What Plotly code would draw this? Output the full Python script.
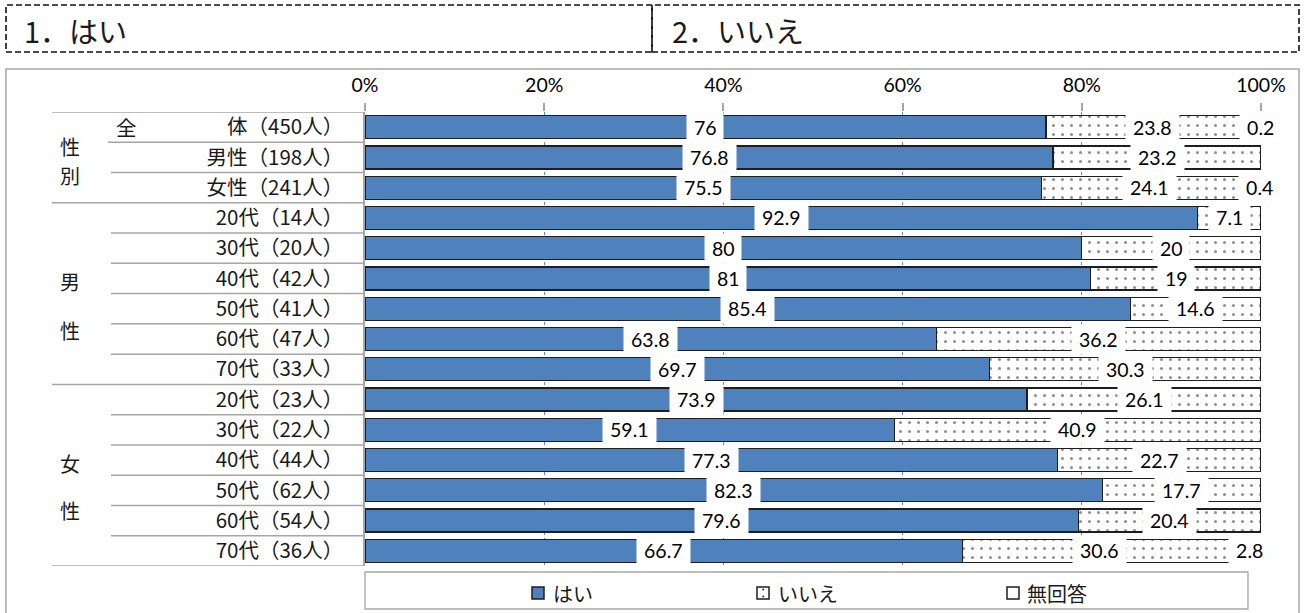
import plotly.graph_objects as go

# Survey rows (top to bottom)
categories = [
    "体（450人）",
    "男性（198人）", "女性（241人）",
    "20代（14人）", "30代（20人）", "40代（42人）", "50代（41人）", "60代（47人）", "70代（33人）",
    "20代（23人）", "30代（22人）", "40代（44人）", "50代（62人）", "60代（54人）", "70代（36人）",
]

# Share of answers (%)
yes_vals = [76, 76.8, 75.5, 92.9, 80, 81, 85.4, 63.8, 69.7, 73.9, 59.1, 77.3, 82.3, 79.6, 66.7]
no_vals = [23.8, 23.2, 24.1, 7.1, 20, 19, 14.6, 36.2, 30.3, 26.1, 40.9, 22.7, 17.7, 20.4, 30.6]
na_vals = [0.2, 0, 0.4, 0, 0, 0, 0, 0, 0, 0, 0, 0, 0, 0, 2.8]

series_names = ["はい", "いいえ", "無回答"]
tick_vals = [0, 20, 40, 60, 80, 100]
tick_labels = ["0%", "20%", "40%", "60%", "80%", "100%"]

# Plot-area geometry in pixels, used to place decorations in paper coordinates
W, H = 1304, 613
L, R, T, B = 365, 1261, 112, 566


def px(x):
    return (x - L) / (R - L)


def py(y):
    return (B - y) / (B - T)


JP = "Noto Sans CJK JP"
NUM = "Lato"
BLUE = "#4F81BD"
EDGE = "#1E1E1E"
GRAY = "#A6A6A6"

fig = go.Figure()

fig.add_trace(go.Bar(
    y=categories, x=yes_vals, name=series_names[0], orientation="h",
    marker=dict(color=BLUE, line=dict(color=EDGE, width=1.3)),
    hoverinfo="skip",
))
fig.add_trace(go.Bar(
    y=categories, x=no_vals, name=series_names[1], orientation="h",
    marker=dict(color="white", line=dict(color=EDGE, width=1.3),
                pattern=dict(shape=".", fgcolor="#202020", bgcolor="white",
                             size=9, solidity=0.09, fillmode="overlay")),
    hoverinfo="skip",
))
fig.add_trace(go.Bar(
    y=categories, x=na_vals, name=series_names[2], orientation="h",
    marker=dict(color="white", line=dict(color=EDGE, width=1.3)),
    hoverinfo="skip",
))

annotations = []

# Value labels in white boxes, centred on each segment
for i, cat in enumerate(categories):
    start = 0.0
    for vals in (yes_vals, no_vals, na_vals):
        v = vals[i]
        if v > 0:
            txt = f"{v:g}"
            n_dig = sum(c.isdigit() for c in txt)
            n_dot = txt.count(".")
            w = n_dig * 11.2 + n_dot * 5 + 8
            annotations.append(dict(
                x=start + v / 2, y=cat, xref="x", yref="y", text=txt,
                showarrow=False, bgcolor="white", borderpad=3,
                width=w, height=23, align="center",
                font=dict(family=NUM, size=19.5, color="#000000"),
            ))
        start += v

# First character of the overall row, spaced apart as in the table
annotations.append(dict(
    x=px(114), y=categories[0], xref="paper", yref="y", text="全",
    showarrow=False, xanchor="left", yanchor="middle",
    font=dict(family=JP, size=20.5, color="#1A1A1A"),
))

# Group labels on the left
group_labels = [("性", 146.5), ("別", 175), ("男", 281), ("性", 330), ("女", 463), ("性", 510)]
for txt, yy in group_labels:
    annotations.append(dict(
        x=px(70), y=py(yy), xref="paper", yref="paper", text=txt,
        showarrow=False, xanchor="center", yanchor="middle", height=21,
        font=dict(family=JP, size=20, color="#1A1A1A"),
    ))

# Header texts
annotations.append(dict(x=px(22), y=py(30), xref="paper", yref="paper", text="1．はい",
                        showarrow=False, xanchor="left", yanchor="middle",
                        font=dict(family=JP, size=29, color="#1A1A1A")))
annotations.append(dict(x=px(670), y=py(30), xref="paper", yref="paper", text="2．いいえ",
                        showarrow=False, xanchor="left", yanchor="middle",
                        font=dict(family=JP, size=29, color="#1A1A1A")))

shapes = []

# Header dashed boxes
for x0, x1 in ((6, 652), (652, 1299)):
    shapes.append(dict(type="rect", xref="paper", yref="paper",
                       x0=px(x0), x1=px(x1), y0=py(52), y1=py(5),
                       line=dict(color="#111111", width=1.6, dash="6px,3px")))

# Outer chart frame
shapes.append(dict(type="rect", xref="paper", yref="paper",
                   x0=px(6), x1=px(1299), y0=py(640), y1=py(69),
                   line=dict(color=GRAY, width=1.5), layer="below"))

# Row separators of the label table
long_rows = {-0.5, 2.5, 8.5, 14.5}
for k in range(-1, 15):
    yb = k + 0.5
    if yb in long_rows:
        xs = 52
    elif yb == 0.5:
        xs = 108
    else:
        xs = 111
    shapes.append(dict(type="line", xref="paper", yref="y",
                       x0=px(xs), x1=0, y0=yb, y1=yb,
                       line=dict(color=GRAY, width=1.5)))

# Legend frame and keys
shapes.append(dict(type="rect", xref="paper", yref="paper",
                   x0=px(365), x1=px(1248), y0=py(609), y1=py(572),
                   line=dict(color=GRAY, width=1.3)))
key_y0, key_y1 = 587, 599
keys = [(532, BLUE, series_names[0], 551), (757, "white", series_names[1], 776),
        (1007, "white", series_names[2], 1025)]
for kx, kc, kname, tx in keys:
    shapes.append(dict(type="rect", xref="paper", yref="paper",
                       x0=px(kx), x1=px(kx + 12), y0=py(key_y1), y1=py(key_y0),
                       fillcolor=kc, line=dict(color=EDGE, width=1.5)))
    annotations.append(dict(x=px(tx), y=py(593), xref="paper", yref="paper", text=kname,
                            showarrow=False, xanchor="left", yanchor="middle",
                            font=dict(family=JP, size=20, color="#1A1A1A")))
# dots inside the pattern key
for dy in (589.5, 596.5):
    shapes.append(dict(type="circle", xref="paper", yref="paper",
                       x0=px(762.2), x1=px(764.2), y0=py(dy + 1), y1=py(dy - 1),
                       fillcolor="#303030", line=dict(width=0)))

fig.update_layout(
    width=W, height=H,
    margin=dict(l=L, r=W - R, t=T, b=H - B, pad=0),
    barmode="stack", bargap=0.24,
    plot_bgcolor="white", paper_bgcolor="white",
    showlegend=False,
    annotations=annotations, shapes=shapes,
    xaxis=dict(
        side="top", range=[0, 100], tickvals=tick_vals, ticktext=tick_labels,
        ticks="outside", ticklen=8, tickwidth=1.5, tickcolor=GRAY,
        showgrid=True, gridcolor="#5B8ED0", griddash="dot", gridwidth=1,
        showline=False, zeroline=False, fixedrange=True,
        tickfont=dict(family=NUM, size=19.5, color="#000000"),
        ticklabelstandoff=3,
    ),
    yaxis=dict(
        type="category", categoryorder="array", categoryarray=categories,
        range=[14.5, -0.5], showline=True, linecolor=GRAY, linewidth=1.5,
        ticks="", showgrid=False, zeroline=False, fixedrange=True,
        tickfont=dict(family=JP, size=20.5, color="#1A1A1A"),
        ticklabelstandoff=16,
    ),
)

fig.write_html("out.html")
